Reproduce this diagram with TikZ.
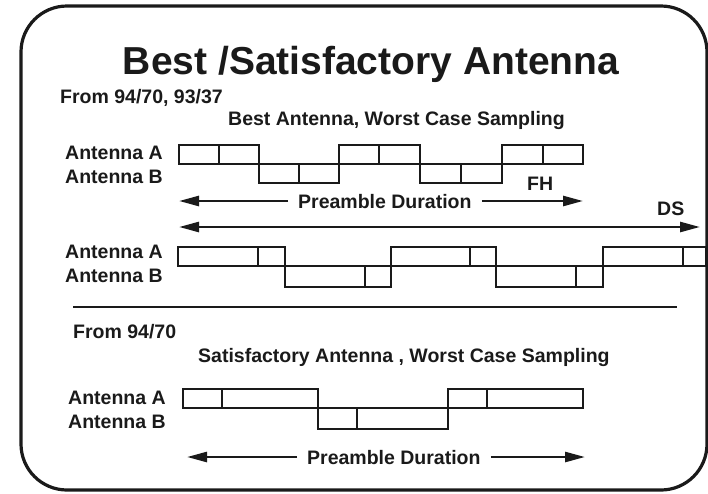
\documentclass[tikz,border=0pt]{standalone}
\usepackage{fontspec}
\setmainfont{Liberation Sans}
\usetikzlibrary{arrows.meta}
\definecolor{ink}{HTML}{1A1A1A}

% one transmission burst: box from x0 to x1 between y-top and y-bottom, split at xd
\newcommand{\burstbox}[5]{%
  \draw[sig] (#1,#4) rectangle (#2,#5);
  \draw[sig] (#3,#4) -- (#3,#5);}

\begin{document}
\begin{tikzpicture}[x=1pt,y=-1pt,
  lbl/.style={font=\fontsize{19.5}{22}\selectfont\bfseries, inner sep=0pt, anchor=base west, text=ink},
  sig/.style={line width=2.7pt, draw=ink},
  span/.style={line width=2.6pt, draw=ink, -{Triangle[length=20pt,width=10pt]}},
]
\useasboundingbox (0,0) rectangle (708,493);

% outer frame
\draw[line width=3.2pt, draw=ink, rounded corners=46pt] (21,6) rectangle (707,490);

% headings
\node[font=\fontsize{39}{44}\selectfont\bfseries, inner sep=0pt, anchor=base, text=ink] (title) at (371,74) {Best /Satisfactory Antenna};
\node[lbl] (src1) at (60,103) {From 94/70, 93/37};
\node[lbl] (head1) at (228,125) {Best Antenna, Worst Case Sampling};

% frequency hopping case
\node[lbl] (fhA) at (65,159) {Antenna A};
\node[lbl] (fhB) at (65,183) {Antenna B};
\burstbox{179}{259}{219}{145}{164}
\burstbox{339}{420}{379}{145}{164}
\burstbox{502}{583}{543}{145}{164}
\burstbox{259}{339}{299}{164}{183}
\burstbox{420}{502}{461}{164}{183}
\node[lbl] (fh) at (527,190) {FH};

\node[lbl] (pre1) at (298,208) {Preamble Duration};
\coordinate (pre1L) at (179,201);
\coordinate (pre1R) at (583,201);
\draw[span] ([xshift=-10pt]pre1.west |- pre1L) -- (pre1L);
\draw[span] ([xshift=10pt]pre1.east |- pre1R) -- (pre1R);

% direct sequence case
\node[lbl] (ds) at (657,215) {DS};
\coordinate (dsL) at (179,227);
\coordinate (dsR) at (700,227);
\draw[span, {Triangle[length=20pt,width=10pt]}-{Triangle[length=20pt,width=10pt]}] (dsL) -- (dsR);

\node[lbl] (dsA) at (65,258) {Antenna A};
\node[lbl] (dsB) at (65,282) {Antenna B};
\burstbox{178}{285}{258}{247}{266}
\burstbox{391}{496}{470}{247}{266}
\burstbox{603}{706}{683}{247}{266}
\burstbox{285}{391}{365}{266}{287}
\burstbox{496}{603}{576}{266}{287}

% separator
\draw[sig] (73,307) -- (677,307);

% satisfactory antenna case
\node[lbl] (src2) at (73,338) {From 94/70};
\node[lbl] (head2) at (198,362) {Satisfactory Antenna , Worst Case Sampling};

\node[lbl] (saA) at (68,404) {Antenna A};
\node[lbl] (saB) at (68,428) {Antenna B};
\burstbox{183}{318}{222}{389}{408}
\burstbox{448}{583}{487}{389}{408}
\burstbox{318}{448}{357}{408}{429}

\node[lbl] (pre2) at (307,464) {Preamble Duration};
\coordinate (pre2L) at (187,457);
\coordinate (pre2R) at (585,457);
\draw[span] ([xshift=-10pt]pre2.west |- pre2L) -- (pre2L);
\draw[span] ([xshift=10pt]pre2.east |- pre2R) -- (pre2R);
\end{tikzpicture}
\end{document}
